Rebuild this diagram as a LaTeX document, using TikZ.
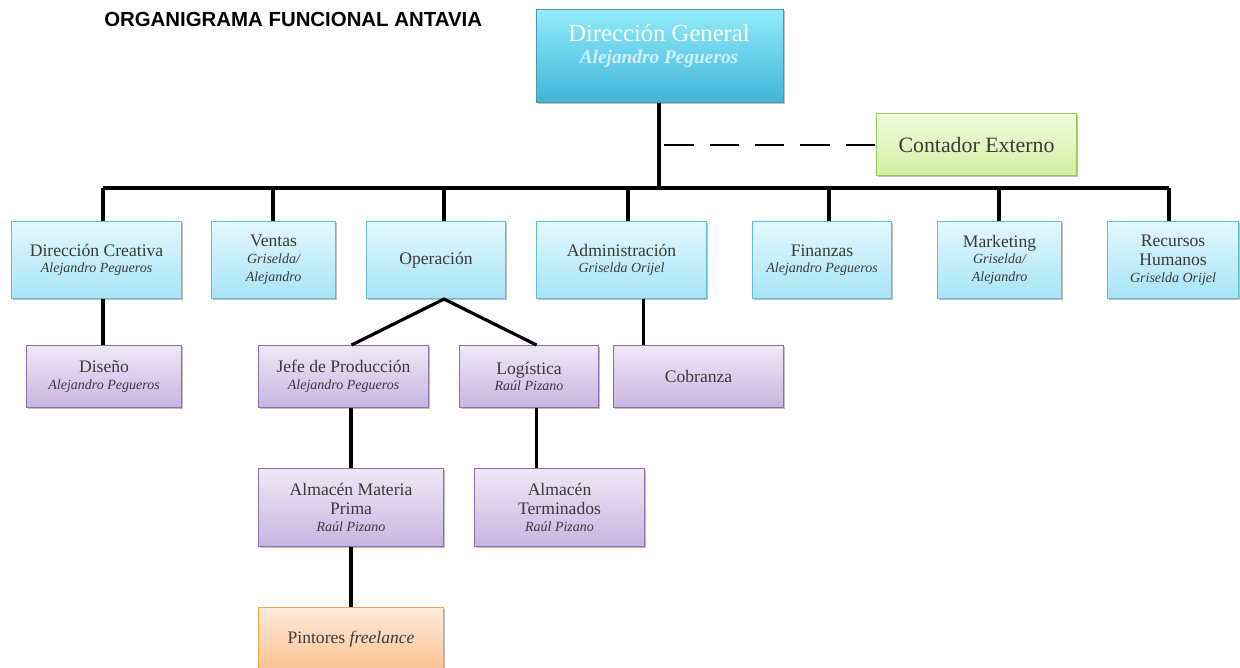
\documentclass[tikz,border=0pt]{standalone}
\usepackage{fontspec}
\setmainfont{Liberation Serif}
\newfontfamily\titlefont{Liberation Sans}
\usetikzlibrary{calc,shadows}
\definecolor{txt}{HTML}{3A3A3A}
\definecolor{cyanTop}{HTML}{E4F8FD}
\definecolor{cyanBot}{HTML}{A6E4F6}
\definecolor{cyanLine}{HTML}{5DBEDA}
\definecolor{dgTop}{HTML}{92ECFC}
\definecolor{dgBot}{HTML}{3FB4D6}
\definecolor{purTop}{HTML}{EEE8F6}
\definecolor{purBot}{HTML}{C8B5E0}
\definecolor{purLine}{HTML}{8B6EB3}
\definecolor{grnTop}{HTML}{F2FBDE}
\definecolor{grnBot}{HTML}{D3EFA2}
\definecolor{grnLine}{HTML}{9CC35C}
\definecolor{orTop}{HTML}{FEEADB}
\definecolor{orBot}{HTML}{FBC18F}
\definecolor{orLine}{HTML}{F0A050}
\newcommand\pname[1]{{\fontsize{10.5}{12.5}\selectfont\itshape #1}}
\tikzset{
  orgbox/.style={draw, line width=0.8pt, anchor=north west, align=center,
    text=txt, inner sep=2pt, font=\fontsize{13.2}{14.5}\selectfont,
    drop shadow={shadow xshift=1.2pt, shadow yshift=-1.2pt, opacity=0.25, fill=black}},
  cyanbox/.style={orgbox, draw=cyanLine, top color=cyanTop, bottom color=cyanBot},
  purbox/.style={orgbox, draw=purLine, top color=purTop, bottom color=purBot},
  link/.style={line width=2.4pt, black},
}
\begin{document}
\begin{tikzpicture}[x=0.75pt, y=-0.75pt]
\useasboundingbox (0,0) rectangle (1240,668);
\clip (0,0) rectangle (1240,668);

% title
\node[anchor=west, inner sep=0pt, font=\titlefont\bfseries\fontsize{15.3}{17}\selectfont] (title) at (104,19) {ORGANIGRAMA FUNCIONAL ANTAVIA};

% top level
\node[orgbox, draw=cyanLine!80!black, top color=dgTop, bottom color=dgBot, minimum width=185.25pt, minimum height=69.75pt] (dg) at (536,9) {};
\node[text=white, font=\fontsize{18.5}{20}\selectfont] (dgt) at (659,33) {Dirección General};
\node[text=white!82!cyan, font=\fontsize{14.5}{16}\selectfont\bfseries\itshape] (dgn) at (659,59) {Alejandro Pegueros};

\node[orgbox, draw=grnLine, top color=grnTop, bottom color=grnBot, minimum width=150pt, minimum height=46.5pt] (ce) at (876,113) {\fontsize{16.4}{18}\selectfont Contador Externo};

% second level
\tikzset{lvtwo/.style={cyanbox, minimum height=57.75pt}}
\node[lvtwo, minimum width=127.5pt] (dc) at (11,221) {Dirección Creativa\\[-2pt]\pname{Alejandro Pegueros}};
\node[lvtwo, minimum width=93pt] (ve) at (211,221) {Ventas\\[-2pt]\pname{Griselda/}\\[-1pt]\pname{Alejandro}};
\node[lvtwo, minimum width=104.25pt] (op) at (366,221) {Operación};
\node[lvtwo, minimum width=127.5pt] (ad) at (536,221) {Administración\\[-2pt]\pname{Griselda Orijel}};
\node[lvtwo, minimum width=104.25pt] (fi) at (752,221) {Finanzas\\[-2pt]\pname{Alejandro Pegueros}};
\node[lvtwo, minimum width=93pt] (mk) at (937,221) {Marketing\\[-2pt]\pname{Griselda/}\\[-1pt]\pname{Alejandro}};
\node[lvtwo, minimum width=98.25pt] (rh) at (1107,221) {Recursos\\Humanos\\[-2pt]\pname{Griselda Orijel}};

% third level
\tikzset{lvthree/.style={purbox, minimum height=46.5pt}}
\node[lvthree, minimum width=116.25pt] (ds) at (26,345) {Diseño\\[-2pt]\pname{Alejandro Pegueros}};
\node[lvthree, minimum width=127.5pt] (jp) at (258,345) {Jefe de Producción\\[-2pt]\pname{Alejandro Pegueros}};
\node[lvthree, minimum width=104.25pt] (lg) at (459,345) {Logística\\[-2pt]\pname{Raúl Pizano}};
\node[lvthree, minimum width=127.5pt] (cb) at (613,345) {Cobranza};

% fourth level
\tikzset{lvfour/.style={purbox, minimum height=58.5pt}}
\node[lvfour, minimum width=138.75pt] (am) at (258,468) {Almacén Materia\\Prima\\[-2pt]\pname{Raúl Pizano}};
\node[lvfour, minimum width=127.5pt] (at) at (474,468) {Almacén\\Terminados\\[-2pt]\pname{Raúl Pizano}};

% fifth level
\node[orgbox, draw=orLine, top color=orTop, bottom color=orBot, minimum width=138.75pt, minimum height=48pt] (pf) at (258,607) {Pintores \textit{freelance}};

% bus and connectors
\coordinate (hub) at (659,188);
\coordinate (dsh) at (659,145);
\coordinate (b1) at (103,188);
\coordinate (b2) at (273,188);
\coordinate (b3) at (444,188);
\coordinate (b4) at (628,188);
\coordinate (b5) at (829,188);
\coordinate (b6) at (999,188);
\coordinate (b7) at (1169,188);
\draw[link] (hub |- dg.south) -- (hub);
\draw[link] (b1) -- (b7);
\draw[link] (b1) -- (b1 |- dc.north);
\draw[link] (b2) -- (b2 |- ve.north);
\draw[link] (b3) -- (b3 |- op.north);
\draw[link] (b4) -- (b4 |- ad.north);
\draw[link] (b5) -- (b5 |- fi.north);
\draw[link] (b6) -- (b6 |- mk.north);
\draw[link] (b7) -- (b7 |- rh.north);
\draw[line width=1.1pt, dash pattern=on 22pt off 12pt, dash phase=-4pt] (dsh) -- (ce.west |- dsh);

\coordinate (opx) at ($(op.south)+(8,0)$);
\coordinate (jpx) at ($(jp.north)+(8,0)$);
\coordinate (lgx) at ($(lg.north)+(7.5,0)$);
\draw[link] (jpx) -- (opx) -- (lgx);
\draw[link] (b1 |- dc.south) -- (b1 |- ds.north);
\coordinate (adx) at ($(ad.south)+(22,0)$);
\draw[link] (adx) -- (adx |- cb.north);
\draw[link] (am.north |- jp.south) -- (am.north);
\coordinate (lgs) at ($(lg.south)+(7.5,0)$);
\draw[link] (lgs) -- (lgs |- at.north);
\draw[link] (am.south) -- (pf.north);
\end{tikzpicture}
\end{document}
